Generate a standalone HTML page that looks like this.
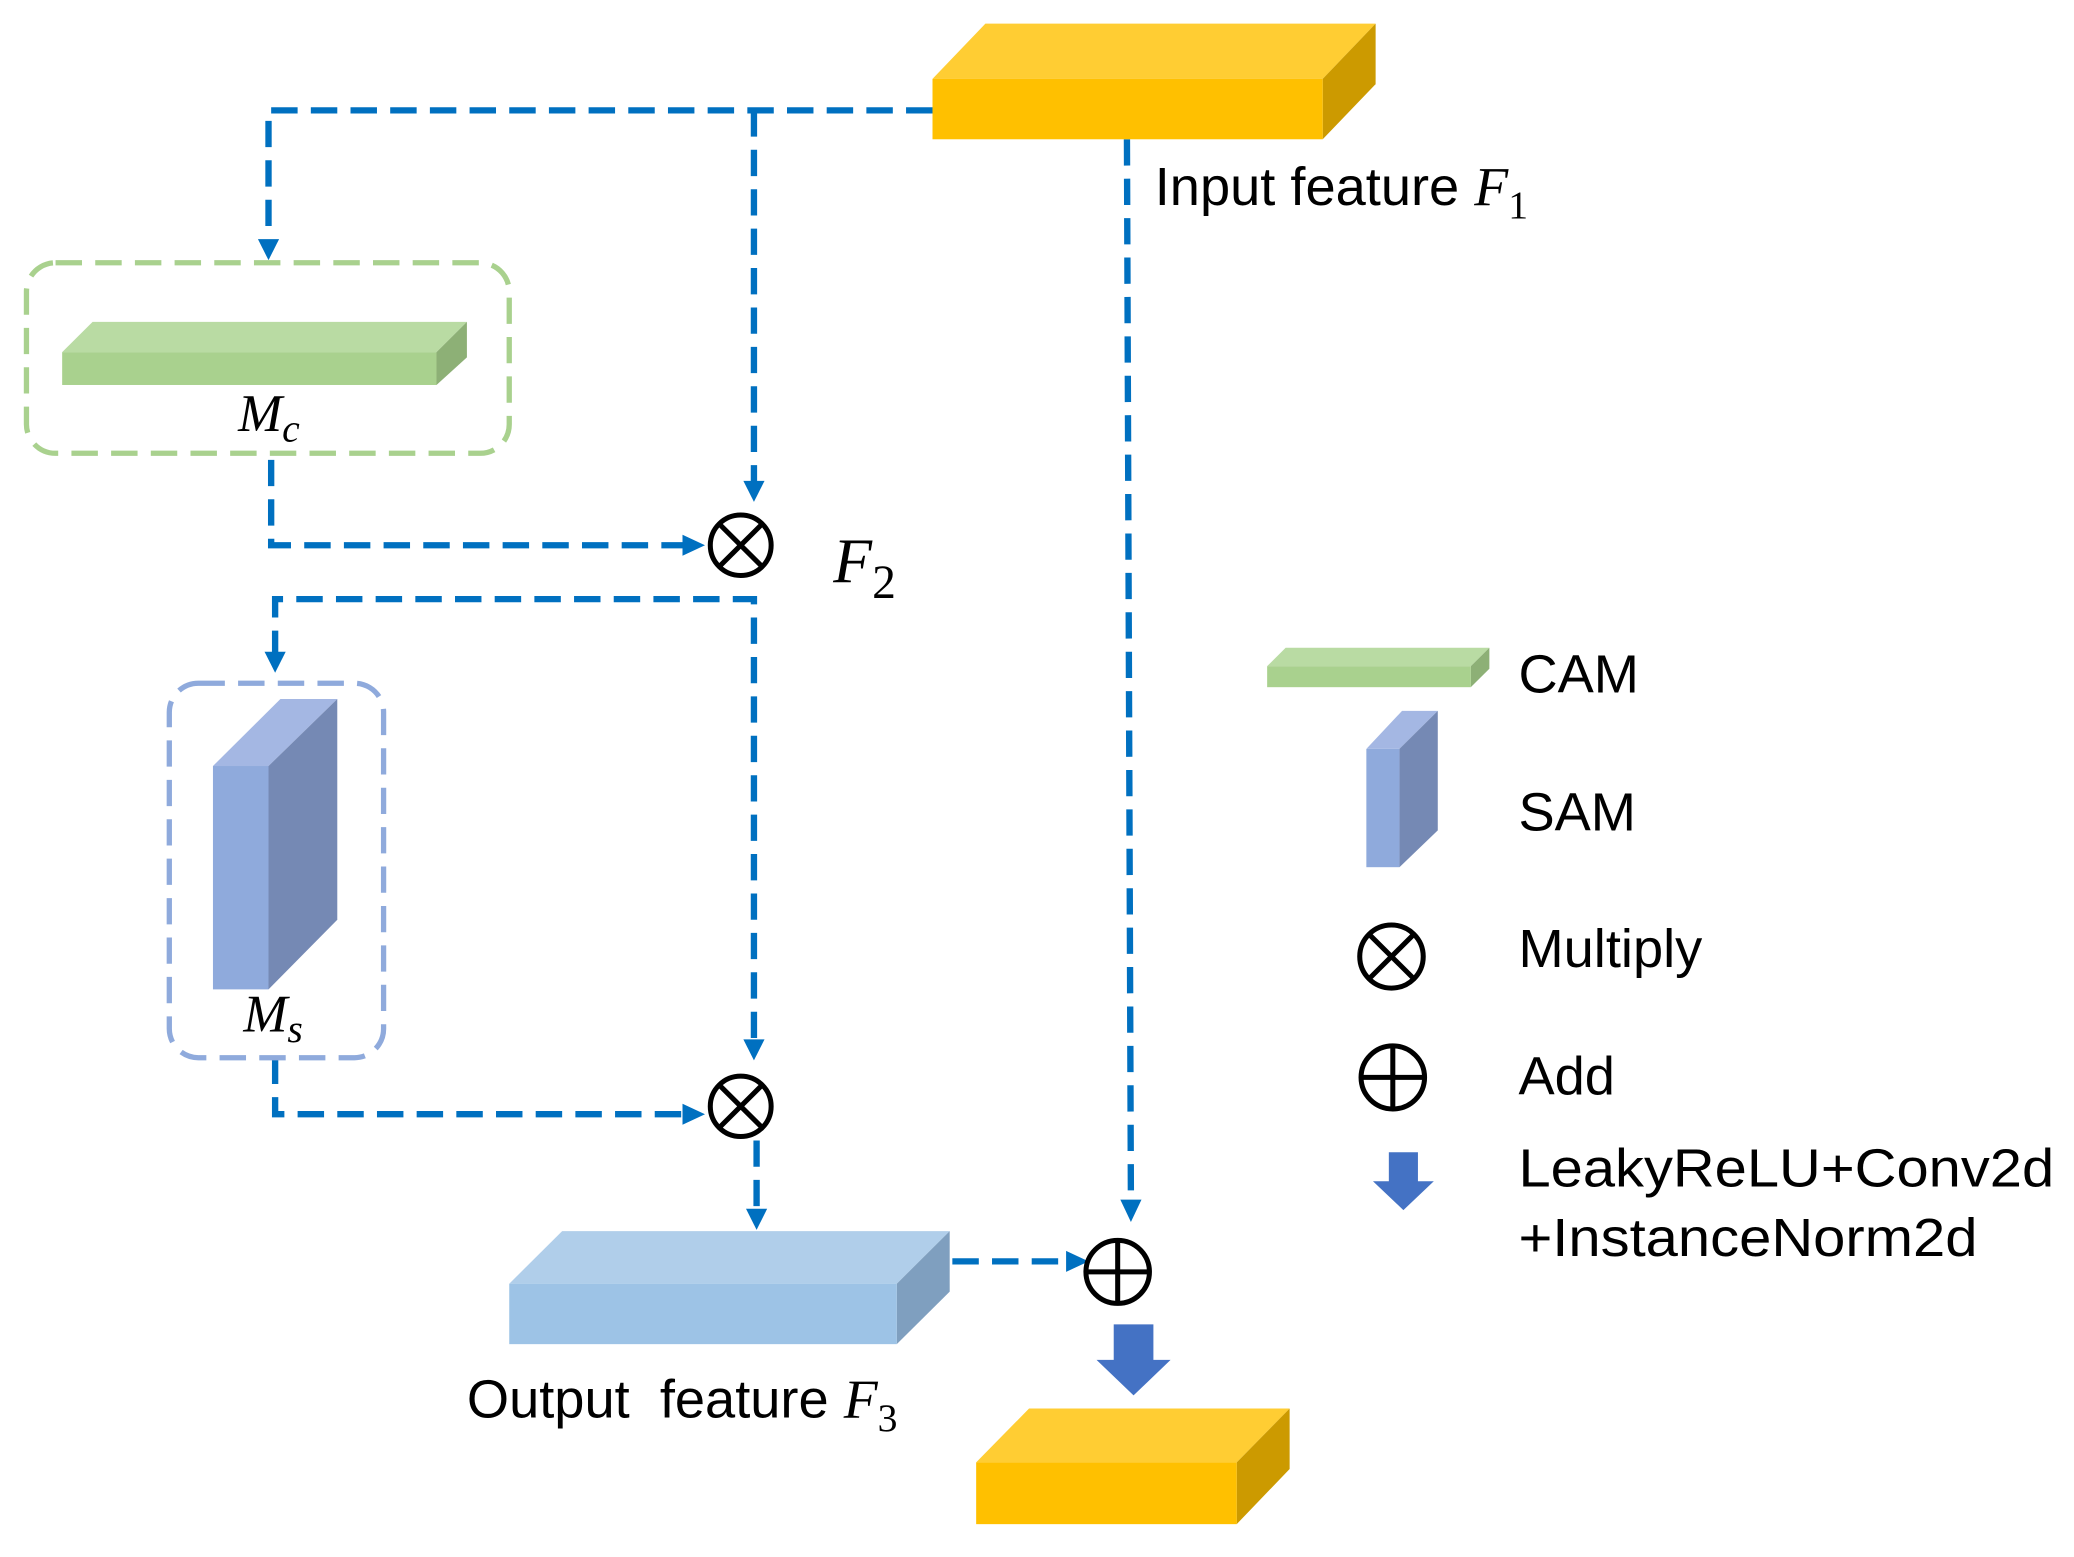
<!DOCTYPE html>
<html><head><meta charset="utf-8"><style>html,body{margin:0;padding:0;background:#fff}svg{display:block}</style></head>
<body>
<svg width="2074" height="1557" viewBox="0 0 1568 1185" preserveAspectRatio="none" xmlns="http://www.w3.org/2000/svg">
<g fill="none" stroke="#0070C0" stroke-width="4.8" stroke-dasharray="20 10">
<path d="M705,84 H203 V182"/>
<path d="M570,84 V368"/>
<path d="M205,350 V415 H518"/>
<path d="M208,500 V456 H570 V792"/>
<path d="M208,805 V848 H518"/>
<path d="M572,868 V922"/>
<path d="M720,960 H808"/>
<path d="M852,106 L855,915"/>
</g>
<g fill="#0070C0">
<path d="M195,182 L211,182 L203,198 z"/>
<path d="M562,366 L578,366 L570,382 z"/>
<path d="M516,407 L516,423 L533,415 z"/>
<path d="M200,496 L216,496 L208,512 z"/>
<path d="M562,791 L578,791 L570,807 z"/>
<path d="M516,840 L516,856 L533,848 z"/>
<path d="M564,920 L580,920 L572,936 z"/>
<path d="M806,952 L806,968 L823,960 z"/>
<path d="M847,913 L863,913 L855,930 z"/>
</g>
<polygon points="705,60 745,18 1040,18 1000,60" fill="#FFCD33"/>
<polygon points="1000,60 1040,18 1040,64 1000,106" fill="#CC9A00"/>
<rect x="705" y="60" width="295" height="46" fill="#FFC000"/>
<rect x="20" y="200" width="365" height="145" rx="22" fill="none" stroke="#A9D18E" stroke-width="4" stroke-dasharray="20 10"/>
<polygon points="47,268 70,245 353,245 330,268" fill="#B9DBA3"/>
<polygon points="330,268 353,245 353,272 330,293" fill="#8DB076"/>
<rect x="47" y="268" width="283" height="25" fill="#A9D18E"/>
<text x="180" y="328" font-family="Liberation Serif, serif" font-style="italic" font-size="40">M<tspan font-size="30" dy="8">c</tspan></text>
<rect x="128" y="520" width="162" height="285" rx="22" fill="none" stroke="#8FAADC" stroke-width="4" stroke-dasharray="20 10"/>
<polygon points="161,583 212,532 255,532 203,583" fill="#A4B7E3"/>
<polygon points="203,583 255,532 255,700 203,753" fill="#7589B4"/>
<rect x="161" y="583" width="42" height="170" fill="#8FAADC"/>
<text x="184" y="785" font-family="Liberation Serif, serif" font-style="italic" font-size="40">M<tspan font-size="30" dy="8">s</tspan></text>
<g fill="#fff" stroke="#000" stroke-width="3.8">
<circle cx="560" cy="415" r="23"/><path d="M544,399 L576,431 M576,399 L544,431"/>
<circle cx="560" cy="842" r="23"/><path d="M544,826 L576,858 M576,826 L544,858"/>
<circle cx="845" cy="968" r="24"/><path d="M821,968 H869 M845,944 V992"/>
<circle cx="1052" cy="728" r="24"/><path d="M1035,711 L1069,745 M1069,711 L1035,745"/>
<circle cx="1053" cy="820" r="24"/><path d="M1029,820 H1077 M1053,796 V844"/>
</g>
<text x="630" y="443" font-family="Liberation Serif, serif" font-style="italic" font-size="48">F<tspan font-style="normal" font-size="36" dy="12">2</tspan></text>
<polygon points="385,977 425,937 718,937 678,977" fill="#B0CEEA"/>
<polygon points="678,977 718,937 718,983 678,1023" fill="#7F9FBF"/>
<rect x="385" y="977" width="293" height="46" fill="#9DC3E6"/>
<path d="M842,1008 H872 V1035 H885 L857,1062 L829,1035 H842 z" fill="#4472C4"/>
<polygon points="738,1113 778,1072 975,1072 935,1113" fill="#FFCD33"/>
<polygon points="935,1113 975,1072 975,1118 935,1160" fill="#CC9A00"/>
<rect x="738" y="1113" width="197" height="47" fill="#FFC000"/>
<g font-family="Liberation Sans, sans-serif" font-size="41" fill="#000">
<text x="873" y="156">Input feature <tspan font-family="Liberation Serif, serif" font-style="italic" font-size="42">F</tspan><tspan font-family="Liberation Serif, serif" font-size="30" dy="10">1</tspan></text>
<text x="353" y="1079" xml:space="preserve">Output  feature <tspan font-family="Liberation Serif, serif" font-style="italic" font-size="42">F</tspan><tspan font-family="Liberation Serif, serif" font-size="30" dy="10">3</tspan></text>
<text x="1148" y="527">CAM</text>
<text x="1148" y="632">SAM</text>
<text x="1148" y="736">Multiply</text>
<text x="1148" y="833">Add</text>
<text x="1148" y="903" textLength="405" lengthAdjust="spacingAndGlyphs">LeakyReLU+Conv2d</text>
<text x="1148" y="956" textLength="347" lengthAdjust="spacingAndGlyphs">+InstanceNorm2d</text>
</g>
<polygon points="958,507 972,493 1126,493 1112,507" fill="#B9DBA3"/>
<polygon points="1112,507 1126,493 1126,509 1112,523" fill="#8DB076"/>
<rect x="958" y="507" width="154" height="16" fill="#A9D18E"/>
<polygon points="1033,570 1060,541 1087,541 1058,570" fill="#A4B7E3"/>
<polygon points="1058,570 1087,541 1087,632 1058,660" fill="#7589B4"/>
<rect x="1033" y="570" width="25" height="90" fill="#8FAADC"/>
<path d="M1050,877 H1072 V899 H1084 L1061,921 L1038,899 H1050 z" fill="#4472C4"/>
</svg>
</body></html>
